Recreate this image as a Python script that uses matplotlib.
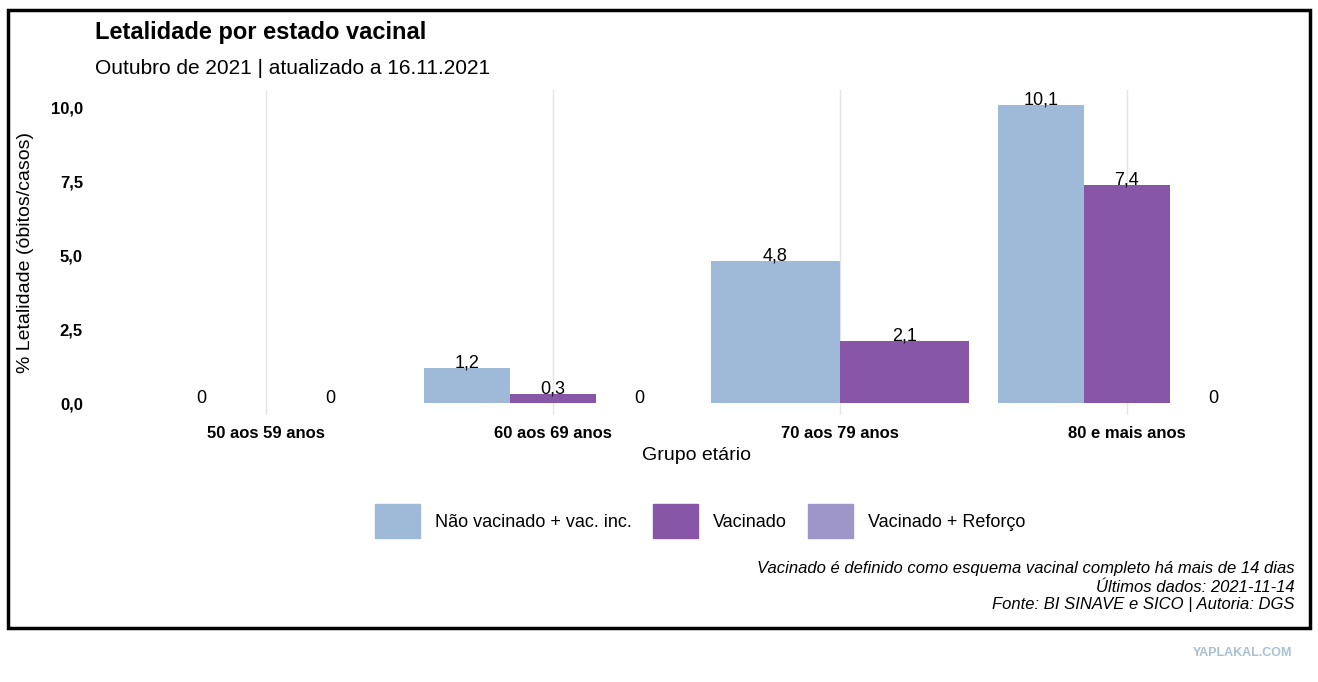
import matplotlib
matplotlib.use("Agg")
import matplotlib.pyplot as plt
from matplotlib.patches import Rectangle, Patch

plt.rcParams['font.family'] = ['Liberation Sans', 'DejaVu Sans']

groups = ["50 aos 59 anos", "60 aos 69 anos", "70 aos 79 anos", "80 e mais anos"]
series = ["Não vacinado + vac. inc.", "Vacinado", "Vacinado + Reforço"]
colors = ["#9FBAD8", "#8856A7", "#9E95C8"]
# values per group, None = series absent in group
nao = [0, 1.2, 4.8, 10.1]
vac = [0, 0.3, 2.1, 7.4]
ref = [None, 0, None, 0]
yticks = [0, 2.5, 5, 7.5, 10]
ytick_labels = ["0,0", "2,5", "5,0", "7,5", "10,0"]

W, H = 1318, 682
fig = plt.figure(figsize=(W/100, H/100), dpi=100)
fig.patches.append(Rectangle((8/W, 1-628/H), 1302/W, 618/H, transform=fig.transFigure,
                             fill=False, lw=2.5, ec="black"))
ax = fig.add_axes([94/W, 1-415/H, 1205/W, 325/H])
ax.set_xlim(-0.6, 3.6)
ax.set_ylim(-0.4, 10.6)

def fmt(v):
    return "0" if v == 0 else f"{v:.1f}".replace(".", ",")

for i in range(len(groups)):
    vals = [(nao[i], 0), (vac[i], 1)]
    if ref[i] is not None:
        vals.append((ref[i], 2))
    n = len(vals)
    w = 0.9 / n
    for k, (v, s) in enumerate(vals):
        x = i - 0.45 + w * (k + 0.5)
        ax.bar(x, v, width=w, color=colors[s], lw=0)
        ax.text(x, v - 0.12, fmt(v), ha="center", va="bottom", fontsize=13)

ax.set_xticks(range(len(groups)))
ax.set_xticklabels(groups, fontweight="bold", fontsize=12)
ax.set_yticks(yticks)
ax.set_yticklabels(ytick_labels, fontweight="bold", fontsize=12)
ax.tick_params(length=0, pad=8)
ax.grid(axis="x", color="#e5e5e5", lw=1)
ax.set_axisbelow(True)
for s in ax.spines.values():
    s.set_visible(False)
ax.set_xlabel("Grupo etário", fontsize=14, labelpad=4)
ax.set_ylabel("% Letalidade (óbitos/casos)", fontsize=14, labelpad=12)

fig.text(95/W, 1-33/H, "Letalidade por estado vacinal", fontsize=17, fontweight="bold", va="center")
fig.text(95/W, 1-68/H, "Outubro de 2021 | atualizado a 16.11.2021", fontsize=15, va="center")

handles = [Patch(color=c) for c in colors]
fig.legend(handles, series, loc="center", bbox_to_anchor=(700/W, 1-521/H), ncol=3,
           frameon=False, fontsize=13, handlelength=2.5, handleheight=2.5, columnspacing=1.2)

for yy, t in zip([569, 587, 605], ["Vacinado é definido como esquema vacinal completo há mais de 14 dias",
                                    "Últimos dados: 2021-11-14",
                                    "Fonte: BI SINAVE e SICO | Autoria: DGS"]):
    fig.text(1295/W, 1-yy/H, t, ha="right", va="center", fontsize=12, style="italic")

fig.text(1292/W, 1-653/H, "YAPLAKAL.COM", ha="right", va="center", fontsize=9,
         fontweight="bold", color="#a8c0d4")
fig.savefig("out.png", dpi=100)
